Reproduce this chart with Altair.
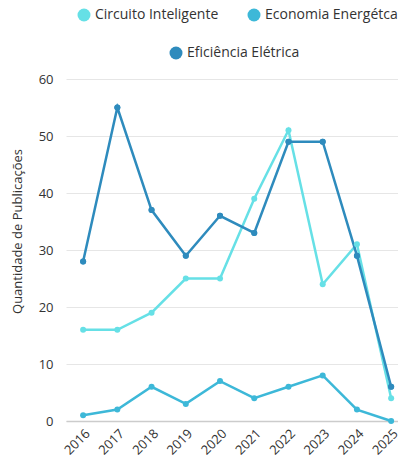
import altair as alt
import pandas as pd

years = [2016, 2017, 2018, 2019, 2020, 2021, 2022, 2023, 2024, 2025]
series_names = ["Circuito Inteligente", "Economia Energétca", "Eficiência Elétrica"]
circuito = [16, 16, 19, 25, 25, 39, 51, 24, 31, 4]
economia = [1, 2, 6, 3, 7, 4, 6, 8, 2, 0]
eficiencia = [28, 55, 37, 29, 36, 33, 49, 49, 29, 6]
colors = ["#66e0e6", "#3db8d8", "#2e8bbd"]
y_ticks = [0, 10, 20, 30, 40, 50, 60]

rows = []
for name, vals in zip(series_names, [circuito, economia, eficiencia]):
    for yr, v in zip(years, vals):
        rows.append({"Ano": yr, "Série": name, "Valor": v})
df = pd.DataFrame(rows)

FONT = "Open Sans"

x_enc = alt.X("Ano:Q",
              scale=alt.Scale(domain=[2015.5, 2025.2], nice=False, zero=False),
              axis=alt.Axis(values=years, format="d", labelAngle=-45, title=None,
                            grid=False, ticks=False, domain=True, domainColor="#cccccc",
                            domainWidth=1.5, labelFontSize=13,
                            labelColor="#333333", labelFont=FONT, labelPadding=6,
                            labelOverlap=False, labelFlush=False))
y_enc = alt.Y("Valor:Q",
              scale=alt.Scale(domain=[0, 60], nice=False),
              axis=alt.Axis(values=y_ticks, title="Quantidade de Publicações",
                            ticks=False, domain=False, labelFontSize=13,
                            labelColor="#333333", labelFont=FONT, labelPadding=13,
                            gridColor="#e6e6e6", titleFontSize=13, titleFont=FONT,
                            titleFontWeight="normal", titleColor="#333333",
                            titleX=-49, titleY=152, titleAngle=-90,
                            titleAlign="center", titleBaseline="middle"))

color_scale = alt.Scale(domain=series_names, range=colors)
color_legend = alt.Legend(values=series_names[:2], orient="none",
                          direction="horizontal", legendX=11, legendY=-71,
                          title=None, symbolType="circle", symbolSize=169,
                          labelFontSize=14, labelFont=FONT,
                          labelColor="#333333", columnPadding=28,
                          symbolOpacity=1, symbolStrokeWidth=0, labelLimit=300)

base = alt.Chart(df)

lines = base.mark_line(strokeWidth=2.5).encode(
    x=x_enc, y=y_enc,
    color=alt.Color("Série:N", scale=color_scale, legend=color_legend),
    detail="Série:N",
)

pointsA = base.mark_point(filled=True, size=36, opacity=1).encode(
    x=x_enc, y=y_enc,
    color=alt.Color("Série:N", scale=color_scale, legend=color_legend),
)

pointsB = base.transform_filter(alt.datum["Série"] == series_names[2]).mark_point(
    filled=True, size=36, opacity=1).encode(
    x=x_enc, y=y_enc,
    fill=alt.Fill("Série:N", scale=alt.Scale(domain=[series_names[2]], range=[colors[2]]),
                  legend=alt.Legend(orient="none", direction="horizontal",
                                    legendX=103, legendY=-33, title=None,
                                    symbolType="circle", symbolSize=169,
                                    labelFontSize=14, labelFont=FONT,
                                    labelColor="#333333", symbolOpacity=1,
                                    symbolStrokeWidth=0, labelLimit=300)),
)

chart = alt.layer(lines, pointsA, pointsB).resolve_scale(
    fill="independent"
).properties(
    width=332, height=342,
    autosize=alt.AutoSizeParams(type="none"),
    padding={"left": 66, "top": 79, "right": 0, "bottom": 40},
    view=alt.ViewBackground(strokeOpacity=0, strokeWidth=0),
).configure(
    font=FONT,
    view=alt.ViewConfig(strokeOpacity=0, strokeWidth=0),
    axisY=alt.AxisConfig(domain=False, ticks=False),
    axisX=alt.AxisConfig(grid=False, ticks=False),
)

chart.save("out.html", embed_options={"renderer": "svg", "actions": False})
